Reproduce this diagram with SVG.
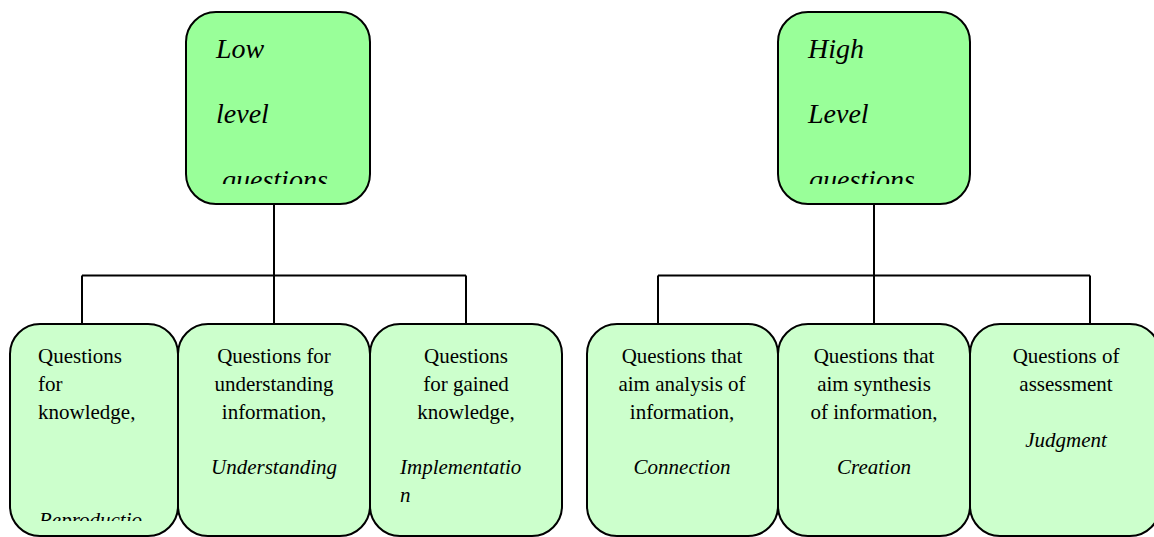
<svg xmlns="http://www.w3.org/2000/svg" width="1154" height="537" viewBox="0 0 1154 537">
<style>
.top{fill:#99ff99;stroke:#000;stroke-width:2}
.bot{fill:#ccffcc;stroke:#000;stroke-width:2}
.conn{fill:none;stroke:#000;stroke-width:2}
.t{font-family:"Liberation Serif","Times New Roman",serif;font-size:21px;fill:#000}
.i{font-style:italic}
.h{font-family:"Liberation Serif","Times New Roman",serif;font-size:28px;font-style:italic;fill:#000}
.c{text-anchor:middle}
</style>
<defs>
<clipPath id="clipL"><rect x="186" y="12" width="185" height="172"/></clipPath>
<clipPath id="clipR"><rect x="778" y="12" width="193" height="172"/></clipPath>
<clipPath id="clip1"><rect x="10" y="324" width="168" height="197"/></clipPath>
</defs>
<rect x="0" y="0" width="1154" height="537" fill="#fff"/>
<g id="connectors">
<path class="conn" d="M274 204V324M82 275.5H466M82 275.5V324M466 275.5V324"/>
<path class="conn" d="M874 204V324M658 275.5H1090M658 275.5V324M1090 275.5V324"/>
</g>
<g id="low">
<rect class="top" x="186" y="12" width="184" height="192" rx="30"/>
<g clip-path="url(#clipL)">
<text class="h" x="216" y="58">Low</text>
<text class="h" x="216" y="123">level</text>
<text class="h" x="222" y="189">questions</text>
</g>
</g>
<g id="high">
<rect class="top" x="778" y="12" width="192" height="192" rx="30"/>
<g clip-path="url(#clipR)">
<text class="h" x="808" y="58">High</text>
<text class="h" x="808" y="123">Level</text>
<text class="h" x="809" y="189">questions</text>
</g>
</g>
<g id="b1">
<rect class="bot" x="10" y="324" width="168" height="212" rx="30"/>
<text class="t" x="38" y="363">Questions</text>
<text class="t" x="38" y="391">for</text>
<text class="t" x="38" y="419">knowledge,</text>
<g clip-path="url(#clip1)"><text class="t i" x="39" y="527">Reproductio</text></g>
</g>
<g id="b2">
<rect class="bot" x="178" y="324" width="192" height="212" rx="30"/>
<text class="t c" x="274" y="363">Questions for</text>
<text class="t c" x="274" y="391">understanding</text>
<text class="t c" x="274" y="419">information,</text>
<text class="t c i" x="274" y="474">Understanding</text>
</g>
<g id="b3">
<rect class="bot" x="370" y="324" width="192" height="212" rx="30"/>
<text class="t c" x="466" y="363">Questions</text>
<text class="t c" x="466" y="391">for gained</text>
<text class="t c" x="466" y="419">knowledge,</text>
<text class="t i" x="400" y="474">Implementatio</text>
<text class="t i" x="400" y="502">n</text>
</g>
<g id="b4">
<rect class="bot" x="587" y="324" width="191" height="212" rx="30"/>
<text class="t c" x="682" y="363">Questions that</text>
<text class="t c" x="682" y="391">aim analysis of</text>
<text class="t c" x="682" y="419">information,</text>
<text class="t c i" x="682" y="474">Connection</text>
</g>
<g id="b5">
<rect class="bot" x="778" y="324" width="192" height="212" rx="30"/>
<text class="t c" x="874" y="363">Questions that</text>
<text class="t c" x="874" y="391">aim synthesis</text>
<text class="t c" x="874" y="419">of information,</text>
<text class="t c i" x="874" y="474">Creation</text>
</g>
<g id="b6">
<rect class="bot" x="970" y="324" width="190" height="212" rx="30"/>
<text class="t c" x="1066" y="363">Questions of</text>
<text class="t c" x="1066" y="391">assessment</text>
<text class="t c i" x="1066" y="447">Judgment</text>
</g>
</svg>
